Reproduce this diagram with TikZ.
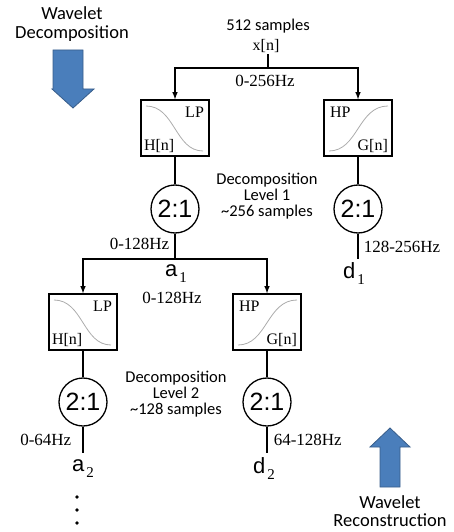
\documentclass[tikz,border=0pt]{standalone}
\usepackage{fontspec}
\setmainfont{Liberation Serif}
\newfontfamily\labfont{Carlito}
\newfontfamily\ratiofont{Liberation Sans}
\definecolor{arrowblue}{HTML}{4A7EBB}
\definecolor{arrowedge}{HTML}{385D8A}
\newcommand{\sub}[1]{\hspace{2pt}\raisebox{-6pt}{\rmfamily\fontsize{15}{15}\selectfont #1}}

\begin{document}
\begin{tikzpicture}[>=latex, x=1pt, y=-1pt, line width=1.5pt,
    filt/.style={draw, line width=1.3pt, minimum width=68pt, minimum height=56pt, inner sep=0pt},
    dwn/.style={draw, line width=1.3pt, circle, minimum size=48pt, inner sep=0pt, font=\ratiofont\fontsize{25}{25}\selectfont},
    hz/.style={font=\fontsize{17}{17}\selectfont, inner sep=1pt},
    flab/.style={font=\fontsize{16}{16}\selectfont, inner sep=0pt},
    lab/.style={font=\labfont\fontsize{16.5}{16}\selectfont, align=center, inner sep=0pt},
    biglab/.style={font=\labfont\fontsize{18.5}{18.5}\selectfont, align=center, inner sep=0pt},
    sig/.style={font=\ratiofont\fontsize{22}{22}\selectfont, inner sep=0pt},
    curve/.style={gray!65, line width=0.8pt},
    bigarrow/.style={fill=arrowblue, draw=arrowedge, line width=0.8pt}]
\useasboundingbox (0,0) rectangle (453,532);

% big arrows
\node[biglab] (wdec) at (72,24) {Wavelet\\Decomposition};
\draw[bigarrow] (53,50)--(83,50)--(83,89)--(94,89)--(73,108)--(52,89)--(53,89)--cycle;
\draw[bigarrow] (380,487)--(400,487)--(400,447)--(410,447)--(390,428)--(370,447)--(380,447)--cycle;
\node[biglab] (wrec) at (390,511) {Wavelet\\Reconstruction};

% input
\node[lab] (nsmp) at (268,26) {512 samples};
\node[flab, inner sep=1pt] (xn) at (266,46) {x[n]};
\coordinate (j0) at (268,68);
\draw (xn.south -| j0) -- (j0);
\node[hz] (f0) at (265,81) {0-256Hz};

% level 1
\node[filt] (lp1) at (175,128) {};
\node[filt] (hp1) at (358,128) {};
\draw[->] (j0) -| (lp1);
\draw[->] (j0) -| (hp1);
\draw[curve] ([shift={(-29,-22)}]lp1.center) .. controls ([shift={(0,-22)}]lp1.center) and ([shift={(0,23)}]lp1.center) .. ([shift={(28,23)}]lp1.center);
\draw[curve] ([shift={(-29,23)}]hp1.center) .. controls ([shift={(0,23)}]hp1.center) and ([shift={(0,-22)}]hp1.center) .. ([shift={(30,-22)}]hp1.center);
\node[flab, anchor=north east] (lp1t) at ([shift={(-5,7)}]lp1.north east) {LP};
\node[flab, anchor=south west] (lp1b) at ([shift={(3,-3)}]lp1.south west) {H[n]};
\node[flab, anchor=north west] (hp1t) at ([shift={(6,7)}]hp1.north west) {HP};
\node[flab, anchor=south east] (hp1b) at ([shift={(-4,-3)}]hp1.south east) {G[n]};

\node[dwn] (ds1) at (175,209) {2:1};
\node[dwn] (ds2) at (358,209) {2:1};
\draw (lp1) -- (ds1);
\draw (hp1) -- (ds2);
\node[lab] (lev1) at (267,196) {Decomposition\\Level 1\\\textasciitilde256 samples};

\coordinate (j1) at (175,259);
\draw (ds1) -- (j1);
\node[hz, anchor=east] (f1) at (171,244) {0-128Hz};
\node[sig] (a1) at (176,274) {a\sub{1}};
\node[hz] (f1b) at (172,298) {0-128Hz};

\coordinate (e1) at (358,259);
\draw (ds2) -- (e1);
\node[hz, anchor=west] (f2) at (362,247) {128-256Hz};
\node[sig] (d1) at (354,274) {d\sub{1}};

% level 2
\node[filt] (lp2) at (83,322) {};
\node[filt] (hp2) at (267,322) {};
\draw[->] (j1) -| (lp2);
\draw[->] (j1) -| (hp2);
\draw[curve] ([shift={(-29,-22)}]lp2.center) .. controls ([shift={(0,-22)}]lp2.center) and ([shift={(0,23)}]lp2.center) .. ([shift={(28,23)}]lp2.center);
\draw[curve] ([shift={(-29,23)}]hp2.center) .. controls ([shift={(0,23)}]hp2.center) and ([shift={(0,-22)}]hp2.center) .. ([shift={(30,-22)}]hp2.center);
\node[flab, anchor=north east] (lp2t) at ([shift={(-5,7)}]lp2.north east) {LP};
\node[flab, anchor=south west] (lp2b) at ([shift={(3,-3)}]lp2.south west) {H[n]};
\node[flab, anchor=north west] (hp2t) at ([shift={(6,7)}]hp2.north west) {HP};
\node[flab, anchor=south east] (hp2b) at ([shift={(-4,-3)}]hp2.south east) {G[n]};

\node[dwn] (ds3) at (83,402) {2:1};
\node[dwn] (ds4) at (267,402) {2:1};
\draw (lp2) -- (ds3);
\draw (hp2) -- (ds4);
\node[lab] (lev2) at (176,394) {Decomposition\\Level 2\\\textasciitilde128 samples};

\coordinate (e2) at (83,453);
\coordinate (e3) at (267,453);
\draw (ds3) -- (e2);
\draw (ds4) -- (e3);
\node[hz, anchor=east] (f3) at (73,440) {0-64Hz};
\node[hz, anchor=west] (f4) at (272,440) {64-128Hz};
\node[sig] (a2) at (83,469) {a\sub{2}};
\node[sig] (d2) at (264,469) {d\sub{2}};
\foreach \y in {497,510,523}
{
    \fill (77,\y) circle (1.8);
}
\end{tikzpicture}
\end{document}
